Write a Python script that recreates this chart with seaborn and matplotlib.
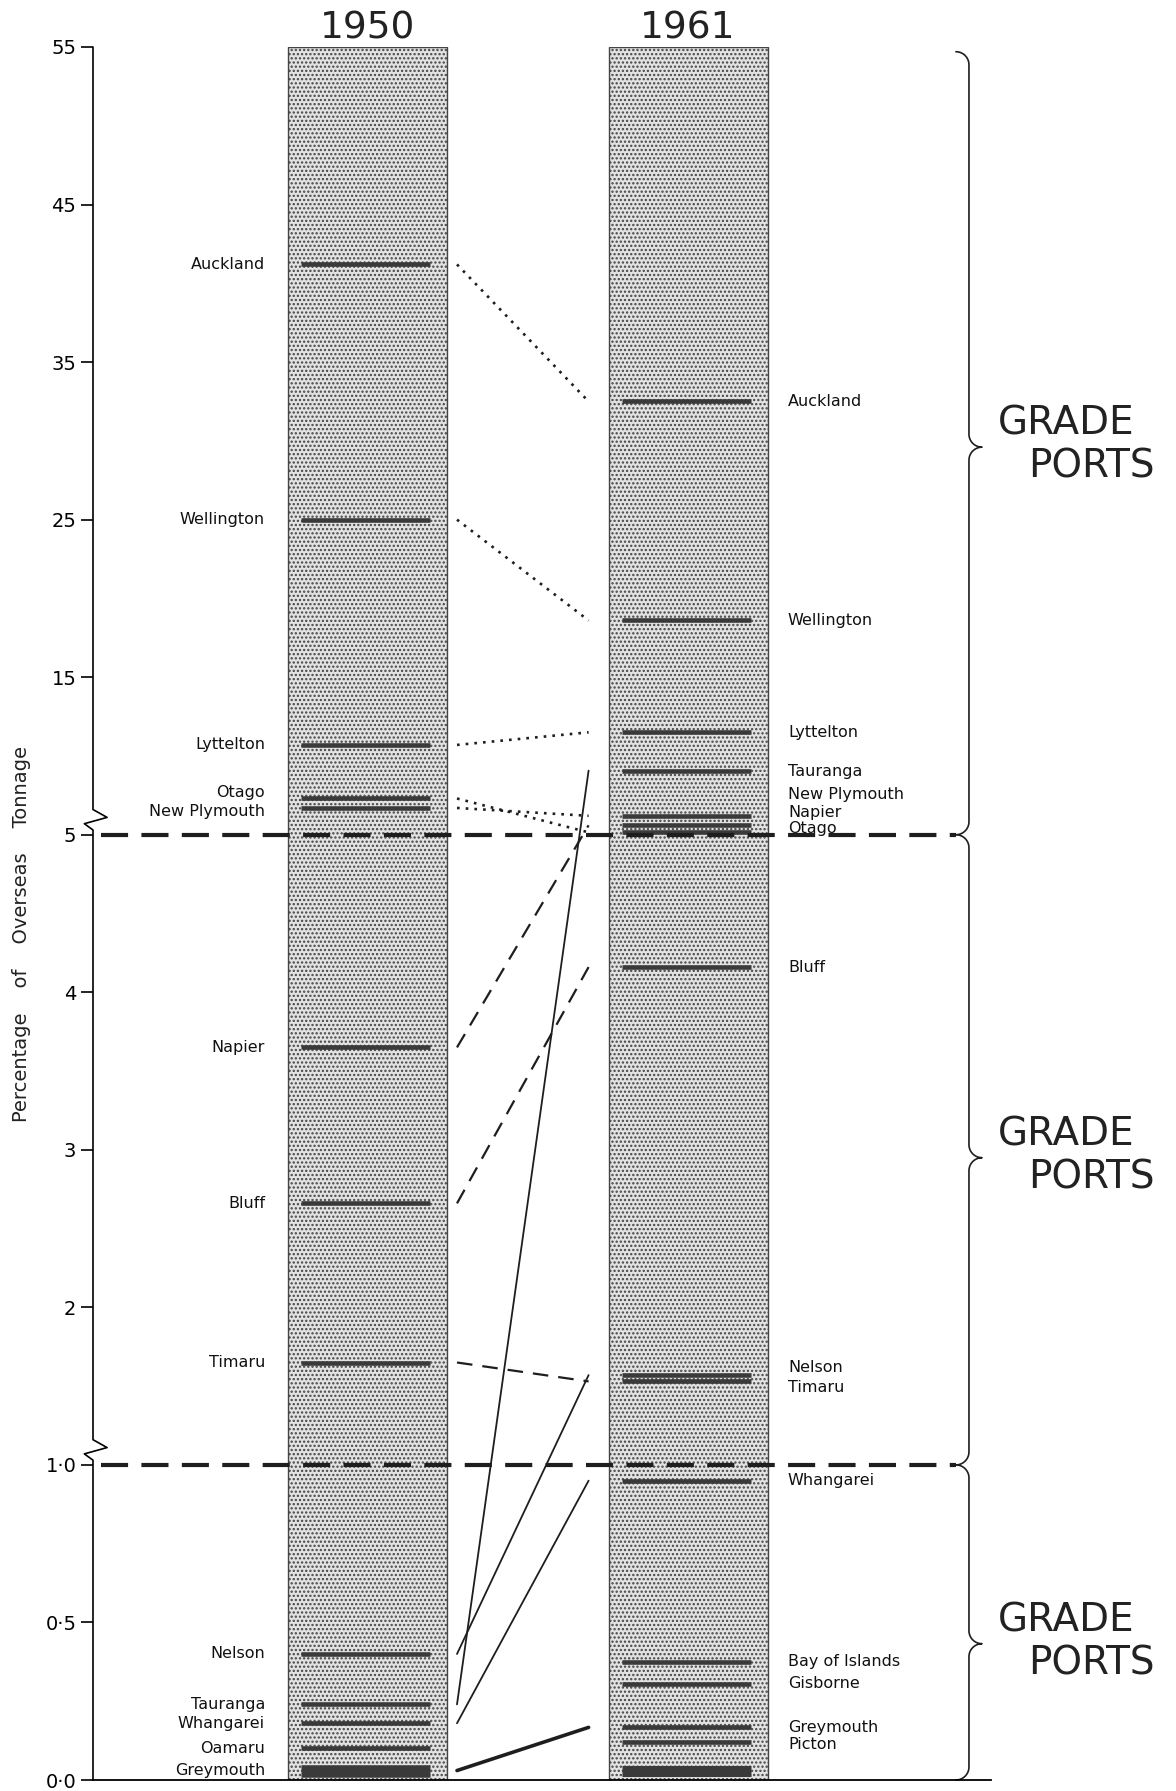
import numpy as np
import pandas as pd
import seaborn as sns
import matplotlib.pyplot as plt

# Share of overseas tonnage by port (%)
ports_1950 = ["Auckland", "Wellington", "Lyttelton", "Otago", "New Plymouth",
              "Napier", "Bluff", "Timaru", "Nelson", "Tauranga", "Whangarei",
              "Oamaru", "Greymouth"]
share_1950 = [41.2, 25.0, 10.7, 7.3, 6.7, 3.65, 2.66, 1.65, 0.40, 0.24, 0.18,
              0.10, 0.03]

ports_1961 = ["Auckland", "Wellington", "Lyttelton", "Tauranga", "New Plymouth",
              "Napier", "Otago", "Bluff", "Nelson", "Timaru", "Whangarei",
              "Bay of Islands", "Gisborne", "Greymouth", "Picton"]
share_1961 = [32.5, 18.6, 11.5, 9.07, 6.2, 5.6, 5.15, 4.16, 1.57, 1.53, 0.95,
              0.375, 0.305, 0.167, 0.12]
minor_1961 = [0.03]  # unlabelled block at the base of 1961

years = ["1950", "1961"]
column_top = [55, 55]
grade_limits = [5, 1]
yticks = [0, 0.5, 1, 2, 3, 4, 5, 15, 25, 35, 45, 55]
ytick_labels = ["0·0", "0·5", "1·0", "2", "3", "4", "5", "15", "25", "35", "45", "55"]

# label nudges in points (crowded labels)
nudge_1950 = {"Otago": 4, "New Plymouth": -2.5}
nudge_1961 = {"Tauranga": -1, "New Plymouth": 15, "Napier": 9, "Otago": 3,
              "Nelson": 5.5, "Timaru": -4.5, "Picton": -1.5}


# broken axis: 0-1, 1-5 and 5-55 get their own stretch
def to_pos(v):
    v = np.asarray(v, dtype=float)
    return np.where(v < 1, 2 * v, np.where(v < 5, v + 1, 6 + (v - 5) / 10))


def from_pos(p):
    p = np.asarray(p, dtype=float)
    return np.where(p < 2, p / 2, np.where(p < 6, p - 1, 5 + (p - 6) * 10))


sns.set_theme(style="white")
plt.rcParams["font.family"] = ["DejaVu Sans"]
plt.rcParams["hatch.linewidth"] = 1.1

fig = plt.figure(figsize=(11.76, 17.91), dpi=100)
ax = fig.add_axes([93 / 1176, 11 / 1791, 1 - 93 / 1176, 1733 / 1791])

sns.barplot(x=years, y=column_top, ax=ax, width=0.495, color="#e2e2e2",
            saturation=1, edgecolor="#444444", linewidth=1, hatch="....",
            errorbar=None, zorder=1)

ax.set_yscale("function", functions=(to_pos, from_pos))
ax.set_ylim(0, 55)
ax.set_xlim(-0.854, 2.52)
ax.set_yticks(yticks)
ax.set_yticklabels(ytick_labels)
ax.set_xlabel("")
ax.xaxis.tick_top()
ax.tick_params(axis="x", length=0, pad=0, labelsize=27, colors="#222222")
ax.tick_params(axis="y", left=True, direction="out", length=9, width=1.2,
               pad=3, labelsize=14, colors="black")

for s in ["top", "right", "left"]:
    ax.spines[s].set_visible(False)
ax.spines["bottom"].set_color("black")
ax.spines["bottom"].set_linewidth(1.3)
ax.spines["bottom"].set_bounds(-0.854, 1.944)

# left axis drawn with the two break marks
axis_p = [11, 6.16, 6.11, 6.07, 6.03, 2.16, 2.11, 2.07, 2.03, 0]
axis_dx = [0, 0, 0.013, -0.008, 0, 0, 0.013, -0.008, 0, 0]
ax.plot(axis_dx, from_pos(axis_p), transform=ax.get_yaxis_transform(),
        color="black", lw=1.2, clip_on=False)

ax.set_ylabel("Percentage    of    Overseas    Tonnage", fontsize=14,
              color="#222222")
ax.yaxis.set_label_coords(-0.057, 0.488)

# port markers and names
for i, (names, shares, nudge) in enumerate([(ports_1950, share_1950, nudge_1950),
                                             (ports_1961, share_1961, nudge_1961)]):
    for name, v in zip(names, shares):
        lw = 9 if v < 0.05 else 3.3
        ax.hlines(v, i - 0.205, i + 0.195, color="#3a3a3a", lw=lw, zorder=3)
        if i == 0:
            ax.annotate(name, (-0.318, v), xytext=(0, nudge.get(name, 0)),
                        textcoords="offset points", ha="right", va="center",
                        fontsize=11.5, color="#111111")
        else:
            ax.annotate(name, (1.311, v), xytext=(0, nudge.get(name, 0)),
                        textcoords="offset points", ha="left", va="center",
                        fontsize=11.5, color="#111111")
ax.hlines(minor_1961, 1 - 0.205, 1 + 0.195, color="#3a3a3a", lw=8, zorder=3)

# links between the two years, styled by 1950 grade
for name, v0 in zip(ports_1950, share_1950):
    if name not in ports_1961:
        continue
    v1 = share_1961[ports_1961.index(name)]
    if v0 > grade_limits[0]:
        ls, lw = (0, (1, 2.3)), 1.9
    elif v0 > grade_limits[1]:
        ls, lw = (0, (7, 4.5)), 1.6
    else:
        ls, lw = "-", 1.3
    if v0 < 0.05:
        lw = 2.6
    ax.plot([0.28, 0.69], [v0, v1], ls=ls, lw=lw, color="#1e1e1e", zorder=2)

# grade boundaries
for g in grade_limits:
    ax.plot([-0.83, 1.835], [g, g], ls=(0, (6.5, 3.2)), lw=3, color="#1e1e1e",
            zorder=4)


def brace(x, p_lo, p_hi, p_tip, r=13):
    rx, rp = r / 320, r / 157.5
    parts = [
        (x - rx, p_hi - rp, np.linspace(np.pi / 2, 0, 15)),
        (x + rx, p_tip + rp, np.linspace(np.pi, 1.5 * np.pi, 15)),
        (x + rx, p_tip - rp, np.linspace(np.pi / 2, np.pi, 15)),
        (x - rx, p_lo + rp, np.linspace(0, -np.pi / 2, 15)),
    ]
    xs = np.concatenate([cx + rx * np.cos(t) for cx, cy, t in parts])
    ps = np.concatenate([cy + rp * np.sin(t) for cx, cy, t in parts])
    ax.plot(xs, from_pos(ps), color="#1e1e1e", lw=1.2, clip_on=False)


brace_spans = [(6, 10.97, 8.46), (2, 6, 3.95), (0, 2, 0.865)]
for lo, hi, tip in brace_spans:
    brace(1.875, lo, hi, tip)
    ax.annotate("GRADE", (1.965, from_pos(tip)), xytext=(0, 17),
                textcoords="offset points", ha="left", va="center",
                fontsize=28, color="#222222", annotation_clip=False)
    ax.annotate("PORTS", (2.06, from_pos(tip)), xytext=(0, -14),
                textcoords="offset points", ha="left", va="center",
                fontsize=28, color="#222222", annotation_clip=False)

fig.savefig("out.png", dpi=100)
